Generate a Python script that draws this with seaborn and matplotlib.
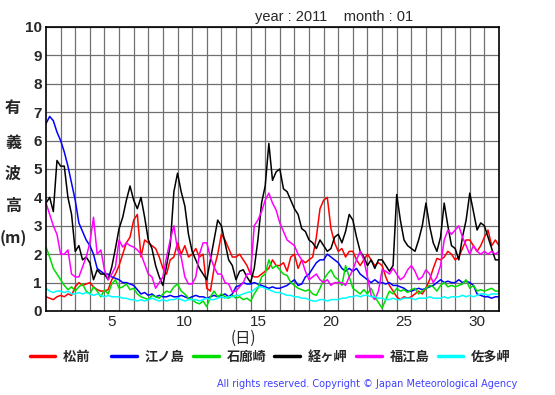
import numpy as np
import pandas as pd
import seaborn as sns
import matplotlib.pyplot as plt

# significant wave height, January 2011, sampled every 6 hours (day 1.00 .. 32.00)
stations = ["松前", "江ノ島", "石廊崎", "経ヶ岬", "福江島", "佐多岬"]
colors = ["#ff0000", "#0000ff", "#00dd00", "#000000", "#ff00ff", "#00ffff"]

matsumae = [
    0.5, 0.45, 0.4, 0.5, 0.55, 0.5, 0.6, 0.55, 0.85, 1.0, 0.9, 0.95,
    1.0, 0.85, 0.75, 0.7, 0.7, 0.75, 1.1, 1.3, 1.6, 2.0, 2.4, 2.6,
    3.2, 3.4, 1.9, 2.5, 2.4, 2.3, 2.2, 1.9, 1.5, 1.3, 1.8, 1.9,
    2.4, 2.0, 2.3, 1.9, 2.0, 2.2, 1.9, 2.0, 0.8, 0.7, 1.5, 2.0,
    2.7, 2.5, 2.2, 1.9, 1.9, 2.0, 1.8, 1.6, 1.3, 1.2, 1.2, 1.3,
    1.4, 1.5, 1.8, 1.6, 1.6, 1.7, 1.4, 1.9, 2.0, 1.5, 1.8, 1.7,
    1.8, 1.9, 2.6, 3.6, 3.9, 4.0, 2.9, 2.4, 2.1, 2.2, 1.9, 2.1,
    2.1, 1.8, 1.6, 1.8, 2.0, 1.8, 1.6, 1.7, 1.6, 1.2, 0.9, 0.7,
    0.5, 0.4, 0.5, 0.45, 0.5, 0.6, 0.7, 0.6, 0.8, 1.1, 1.5, 1.85,
    1.8, 1.9, 2.1, 2.0, 1.8, 1.9, 2.2, 2.5, 2.5, 2.3, 2.1, 2.3,
    2.6, 2.85, 2.3, 2.5, 2.3,
]
enoshima = [
    6.6, 6.85, 6.7, 6.3, 6.0, 5.6, 5.1, 4.5, 3.9, 3.1, 2.8, 2.5,
    2.3, 2.0, 1.5, 1.4, 1.3, 1.3, 1.2, 1.15, 1.1, 1.0, 1.0, 0.95,
    0.9, 0.75, 0.6, 0.65, 0.55, 0.6, 0.5, 0.55, 0.5, 0.5, 0.55, 0.5,
    0.5, 0.55, 0.5, 0.45, 0.5, 0.55, 0.5, 0.5, 0.45, 0.5, 0.55, 0.5,
    0.55, 0.6, 0.5, 0.6, 0.85, 0.9, 1.0, 0.95, 0.95, 1.0, 0.95, 0.9,
    0.85, 0.8, 0.85, 0.8, 0.8, 0.85, 0.9, 1.0, 1.1, 0.9, 0.95, 1.2,
    1.3, 1.5, 1.7, 1.8, 1.8, 2.0, 1.9, 1.8, 1.7, 1.5, 1.4, 1.5,
    1.4, 1.5, 1.3, 1.2, 1.1, 1.0, 1.1, 1.0, 1.0, 0.95, 1.0, 0.9,
    0.9, 0.85, 0.8, 0.7, 0.7, 0.75, 0.8, 0.75, 0.8, 0.85, 0.9, 1.0,
    1.1, 1.0, 1.05, 1.0, 1.0, 1.1, 1.0, 1.05, 1.0, 0.9, 0.6, 0.55,
    0.5, 0.5, 0.45, 0.5, 0.5,
]
irozaki = [
    2.25, 1.9, 1.5, 1.3, 1.1, 0.9, 0.75, 0.85, 0.7, 0.85, 0.95, 0.7,
    0.6, 0.85, 0.7, 0.5, 0.75, 0.6, 0.95, 1.1, 0.8, 0.85, 0.95, 0.75,
    0.8, 0.6, 0.5, 0.45, 0.4, 0.55, 0.5, 0.45, 0.6, 0.7, 0.65, 0.85,
    0.95, 0.7, 0.6, 0.45, 0.4, 0.3, 0.25, 0.35, 0.15, 0.5, 0.7, 0.5,
    0.6, 0.5, 0.45, 0.55, 0.45, 0.5, 0.4, 0.45, 0.35, 0.6, 0.8, 1.2,
    1.3, 1.8, 1.5, 1.6, 1.45, 1.3, 1.25, 1.0, 0.9, 0.8, 0.75, 0.7,
    0.75, 0.6, 0.55, 0.8, 1.1, 1.3, 1.45, 1.2, 1.1, 0.9, 1.6, 1.2,
    0.8, 0.7, 0.6, 0.75, 0.6, 0.8, 0.5, 0.3, 0.1, 0.4, 0.7, 0.6,
    0.8, 0.7, 0.75, 0.65, 0.75, 0.8, 0.6, 0.7, 0.8, 0.9, 0.85, 0.7,
    0.9, 1.0, 0.85, 0.9, 0.85, 0.9, 0.95, 1.1, 0.8, 0.9, 0.7, 0.75,
    0.7, 0.75, 0.8, 0.7, 0.7,
]
kyogamisaki = [
    3.8, 4.0, 3.5, 5.3, 5.1, 5.1, 4.0, 3.4, 2.1, 2.3, 1.8, 1.9,
    1.7, 1.1, 1.45, 1.3, 1.3, 1.1, 1.55, 2.2, 2.9, 3.3, 3.9, 4.4,
    3.9, 3.6, 4.0, 3.3, 2.5, 2.2, 1.6, 1.2, 0.9, 1.6, 2.3, 4.2,
    4.85, 4.2, 3.7, 2.7, 2.1, 1.8, 1.5, 1.3, 1.1, 1.8, 2.5, 3.2,
    3.0, 2.4, 1.8, 1.6, 1.1, 1.4, 1.45, 1.2, 1.0, 1.5, 2.5, 3.8,
    4.4, 5.9, 4.6, 4.9, 5.0, 4.3, 4.2, 3.9, 3.6, 3.4, 2.9, 2.8,
    2.5, 2.4, 2.2, 2.5, 2.3, 2.1, 2.2, 2.6, 2.7, 2.4, 2.8, 3.4,
    3.2, 2.6, 2.1, 1.9, 1.6, 1.8, 1.5, 1.8, 1.8, 1.6, 1.4, 1.6,
    4.1, 3.2, 2.5, 2.3, 2.2, 2.1, 2.5, 3.0, 3.8, 3.0, 2.4, 2.1,
    2.6, 3.8, 3.0, 2.3, 2.2, 1.8, 2.6, 3.2, 4.15, 3.5, 2.85, 3.1,
    3.0, 2.6, 2.2, 1.8, 1.8,
]
fukuejima = [
    3.8, 3.4, 3.0, 2.7, 2.0, 2.0, 2.15, 1.3, 1.2, 1.2, 1.55, 1.9,
    2.4, 3.3, 2.0, 2.15, 1.45, 1.1, 1.3, 1.55, 2.5, 2.25, 2.4, 2.3,
    2.25, 2.15, 2.0, 1.65, 1.3, 1.2, 0.8, 1.0, 1.2, 1.9, 2.5, 3.0,
    2.15, 1.9, 1.2, 0.95, 0.95, 1.2, 2.0, 2.4, 2.4, 1.9, 1.55, 1.3,
    1.3, 1.0, 0.95, 0.67, 0.7, 0.85, 1.0, 1.3, 1.3, 3.0, 3.2, 3.5,
    3.9, 4.15, 3.8, 3.55, 3.1, 2.8, 2.5, 2.4, 2.3, 2.0, 1.8, 1.4,
    1.1, 1.2, 1.3, 1.1, 1.0, 1.1, 0.9, 1.0, 1.0, 1.0, 0.9, 1.2,
    1.45, 1.8, 2.1, 1.8, 1.2, 0.55, 0.4, 0.7, 1.45, 1.4, 1.3, 1.5,
    1.3, 1.1, 1.2, 1.45, 1.6, 1.4, 1.1, 1.2, 1.45, 1.3, 1.0, 1.2,
    1.6, 2.5, 2.85, 2.7, 2.85, 3.0, 2.6, 2.3, 2.0, 2.3, 2.1, 2.0,
    2.1, 2.0, 2.1, 2.0, 2.1,
]
satamisaki = [
    0.8, 0.7, 0.65, 0.7, 0.7, 0.65, 0.7, 0.6, 0.6, 0.65, 0.6, 0.65,
    0.6, 0.55, 0.6, 0.55, 0.5, 0.55, 0.5, 0.5, 0.5, 0.45, 0.45, 0.4,
    0.4, 0.35, 0.4, 0.35, 0.4, 0.45, 0.4, 0.35, 0.4, 0.35, 0.4, 0.4,
    0.45, 0.4, 0.35, 0.4, 0.4, 0.4, 0.35, 0.4, 0.45, 0.4, 0.4, 0.45,
    0.5, 0.45, 0.5, 0.5, 0.55, 0.55, 0.6, 0.65, 0.67, 0.75, 0.85, 0.85,
    0.8, 0.75, 0.7, 0.65, 0.65, 0.6, 0.55, 0.55, 0.5, 0.5, 0.45, 0.45,
    0.4, 0.35, 0.35, 0.4, 0.4, 0.35, 0.4, 0.4, 0.4, 0.45, 0.45, 0.5,
    0.5, 0.55, 0.5, 0.55, 0.55, 0.5, 0.5, 0.45, 0.45, 0.4, 0.4, 0.45,
    0.4, 0.4, 0.45, 0.45, 0.45, 0.4, 0.45, 0.45, 0.45, 0.5, 0.45, 0.45,
    0.45, 0.5, 0.45, 0.5, 0.5, 0.5, 0.55, 0.5, 0.55, 0.5, 0.55, 0.6,
    0.6, 0.55, 0.6, 0.6, 0.6,
]
series = [matsumae, enoshima, irozaki, kyogamisaki, fukuejima, satamisaki]

days = np.arange(len(matsumae)) / 4 + 1
x_tick_days = [5, 10, 15, 20, 25, 30]

frames = [pd.DataFrame({"day": days, "height": vals, "station": name})
          for name, vals in zip(stations, series)]
df = pd.concat(frames, ignore_index=True)

sns.set_style("white")
plt.rcParams["font.family"] = ["Liberation Sans", "Noto Sans CJK JP", "DejaVu Sans"]

fig = plt.figure(figsize=(5.55, 3.95), dpi=100)
ax = fig.add_axes([0.0829, 0.2127, 0.8162, 0.7190])

sns.lineplot(data=df, x="day", y="height", hue="station", hue_order=stations,
             palette=colors, linewidth=1.1, legend=False, ax=ax)

ax.set_xlim(1, 32)
ax.set_ylim(0, 10)
ax.set_xticks(np.arange(2, 32), minor=True)
ax.set_yticks(np.arange(0, 11))
ax.set_yticklabels([str(v) for v in range(11)], fontsize=11, fontweight="bold")
ax.set_xticks([d + 0.5 for d in x_tick_days])
ax.set_xticklabels([str(d) for d in x_tick_days], fontsize=11)
ax.grid(True, which="minor", axis="x", color="#707070", linewidth=0.9)
ax.grid(True, which="major", axis="y", color="#707070", linewidth=0.9)
ax.tick_params(length=0, pad=3)
ax.set_xlabel("")
ax.set_ylabel("")
for sp in ax.spines.values():
    sp.set_color("black")
    sp.set_linewidth(1.2)
ax.set_axisbelow(True)

fig.text(0.602, 1 - 17 / 395, "year : 2011    month : 01", ha="center", va="center",
         fontsize=10.5)

cjk = ["Noto Sans CJK JP", "DejaVu Sans"]
for ch, ypx in zip(["有", "義", "波", "高", "(m)"], [108, 143, 174, 206, 238]):
    fig.text(13 / 555, 1 - ypx / 395, ch, ha="center", va="center", fontsize=11.5,
             fontweight="bold", family=cjk)

fig.text(243 / 555, 1 - 338 / 395, "(日)", ha="center", va="center", fontsize=11,
         family=cjk)

# pad the two-character name so every legend column has the same width
labels = [s if len(s) == 3 else s + "\u3000" for s in stations]
handles = ax.get_lines()[:len(stations)]
leg = fig.legend(handles, labels, loc="center", ncol=6, frameon=False,
                 bbox_to_anchor=(0.487, 1 - 357 / 395), handlelength=1.95,
                 handletextpad=0.6, columnspacing=0.62,
                 prop={"family": "Noto Sans CJK JP", "weight": "bold", "size": 9.5})
for line in leg.get_lines():
    line.set_linewidth(2.5)

fig.text(517 / 555, 1 - 384 / 395,
         "All rights reserved. Copyright \u00a9 Japan Meteorological Agency",
         ha="right", va="center", fontsize=7, color="#4040ff", family="DejaVu Sans")

fig.savefig("out.png", dpi=100)
